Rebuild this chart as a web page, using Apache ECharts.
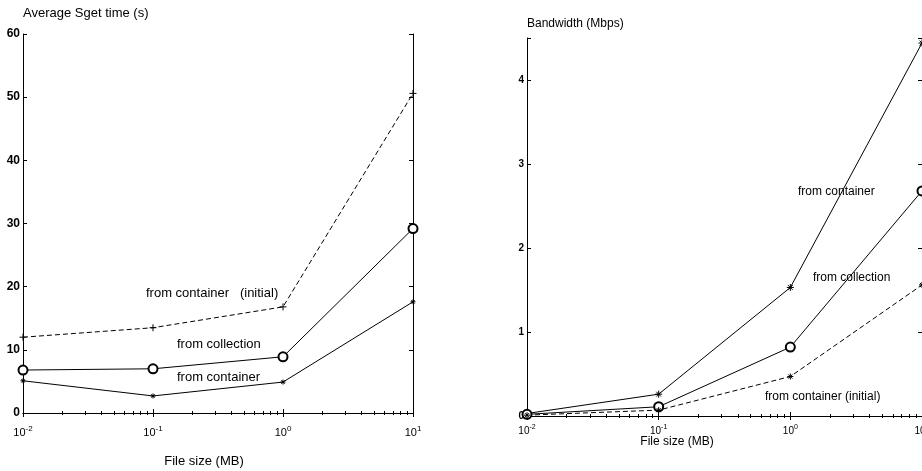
<!DOCTYPE html>
<html>
<head>
<meta charset="utf-8">
<script src="https://cdn.jsdelivr.net/npm/echarts@6/dist/echarts.min.js"></script>
<style>html,body{margin:0;padding:0;background:#fff;}#c{width:922px;height:471px;}</style>
</head>
<body>
<div id="c"></div>
<script>
// ---- data ----
const fileSizes = [0.01, 0.1, 1, 10];           // MB
const timeInitial = [12.0, 13.5, 16.8, 50.6];   // from container (initial)
const timeCollection = [6.8, 7.0, 8.9, 29.2];   // from collection
const timeContainer = [5.1, 2.7, 4.9, 17.6];    // from container
const bwContainer = [0.03, 0.26, 1.53, 4.44];   // from container
const bwCollection = [0.02, 0.11, 0.82, 2.68];  // from collection
const bwInitial = [0.01, 0.07, 0.47, 1.56];     // from container (initial)
const timeTickLabels = [0, 10, 20, 30, 40, 50, 60];
const bwTickLabels = [0, 1, 2, 3, 4];
const xTickExponents = [-2, -1, 0, 1];

const FONT = 'Liberation Sans';
const pairs = ys => fileSizes.map((x, i) => [x, ys[i]]);
const plusPath = 'path://M5,0L5,10M0,5L10,5';
const starPath = 'path://M5,0L5,10M0,5L10,5M1.6,1.6L8.4,8.4M8.4,1.6L1.6,8.4';

function xLabel(v) {
  const e = Math.round(Math.log10(v));
  if (xTickExponents.indexOf(e) < 0) return '';
  return '{b|10}{s|' + e + '}';
}
function xAxisMain(gi, fs, margin) {
  return {
    gridIndex: gi, type: 'log', logBase: 10, min: 0.01, max: 10,
    axisLine: {lineStyle: {color: '#000', width: 1}},
    axisTick: {inside: true, length: 4, lineStyle: {color: '#000'}},
    minorTick: {show: true, splitNumber: 9, length: 2, lineStyle: {color: '#000'}},
    splitLine: {show: false},
    axisLabel: {
      margin: margin, formatter: xLabel, hideOverlap: false,
      rich: {
        b: {fontFamily: FONT, fontSize: fs, color: '#000'},
        s: {fontFamily: FONT, fontSize: fs - 3, color: '#000', padding: [0, 0, 7, 0]}
      }
    }
  };
}
function xAxisTop(gi) {
  return {
    gridIndex: gi, type: 'log', logBase: 10, min: 0.01, max: 10, position: 'top',
    axisLine: {lineStyle: {color: '#000', width: 1}},
    axisTick: {inside: true, length: 4, lineStyle: {color: '#000'}},
    minorTick: {show: true, splitNumber: 9, length: 2, lineStyle: {color: '#000'}},
    splitLine: {show: false}, axisLabel: {show: false}
  };
}
function yAxisMain(gi, ticks, max, interval, fs) {
  return {
    gridIndex: gi, type: 'value', min: 0, max: max, interval: interval,
    axisLine: {show: true, lineStyle: {color: '#000', width: 1}},
    axisTick: {show: true, inside: true, length: 4, lineStyle: {color: '#000'}},
    splitLine: {show: false},
    axisLabel: {
      margin: 3, fontFamily: FONT, fontSize: fs, fontWeight: 'bold', color: '#000',
      formatter: v => ticks.indexOf(v) >= 0 ? String(v) : ''
    }
  };
}
function yAxisRight(gi, max, interval) {
  return {
    gridIndex: gi, type: 'value', min: 0, max: max, interval: interval, position: 'right',
    axisLine: {show: true, lineStyle: {color: '#000', width: 1}},
    axisTick: {show: true, inside: true, length: 4, lineStyle: {color: '#000'}},
    splitLine: {show: false}, axisLabel: {show: false}
  };
}
function line(name, xi, yi, data, symbol, size, dashed) {
  const isPath = symbol.indexOf('path://') === 0;
  return {
    name: name, type: 'line', xAxisIndex: xi, yAxisIndex: yi, data: data,
    symbol: symbol, symbolSize: size, showAllSymbol: true, clip: false,
    lineStyle: {color: '#000', width: 1, type: dashed ? [5, 3] : 'solid'},
    itemStyle: isPath ? {color: 'rgba(0,0,0,0)', borderColor: '#000', borderWidth: 1}
                      : {color: '#000', borderColor: '#000', borderWidth: 1},
    emphasis: {disabled: true}, animation: false, z: 3
  };
}
function txt(x, y, s, fs, align) {
  return {type: 'text', x: x, y: y, style: {text: s, fontFamily: FONT, fontSize: fs, fill: '#000',
    align: align || 'left', verticalAlign: 'middle'}};
}

const chart = echarts.init(document.getElementById('c'));
chart.setOption({
  backgroundColor: '#fff',
  animation: false,
  grid: [
    {left: 23, top: 34, width: 390, height: 379, outerBoundsMode: 'none', containLabel: false},
    {left: 527, top: 38, width: 395, height: 378, outerBoundsMode: 'none', containLabel: false}
  ],
  xAxis: [xAxisMain(0, 11, 12), xAxisTop(0), xAxisMain(1, 10, 8), xAxisTop(1)],
  yAxis: [yAxisMain(0, timeTickLabels, 60, 10, 12), yAxisRight(0, 60, 10),
          yAxisMain(1, bwTickLabels, 4.5, 1, 10), yAxisRight(1, 4.5, 1)],
  series: [
    line('from container (initial)', 0, 0, pairs(timeInitial), plusPath, 7, true),
    line('from collection', 0, 0, pairs(timeCollection), 'emptyCircle', 9, false),
    line('from container', 0, 0, pairs(timeContainer), starPath, 5, false),
    line('from container', 2, 2, pairs(bwContainer), starPath, 7, false),
    line('from collection', 2, 2, pairs(bwCollection), 'emptyCircle', 9, false),
    line('from container (initial)', 2, 2, pairs(bwInitial), starPath, 6, true)
  ],
  graphic: [
    txt(23, 13, 'Average Sget time (s)', 13),
    txt(204, 461, 'File size (MB)', 13, 'center'),
    txt(146, 293, 'from container   (initial)', 13),
    txt(177, 344, 'from collection', 13),
    txt(177, 377, 'from container', 13),
    txt(527, 24, 'Bandwidth (Mbps)', 12),
    txt(677, 442, 'File size (MB)', 12, 'center'),
    txt(798, 192, 'from container', 12),
    txt(813, 278, 'from collection', 12),
    txt(765, 397, 'from container (initial)', 12)
  ]
});
</script>
</body>
</html>
